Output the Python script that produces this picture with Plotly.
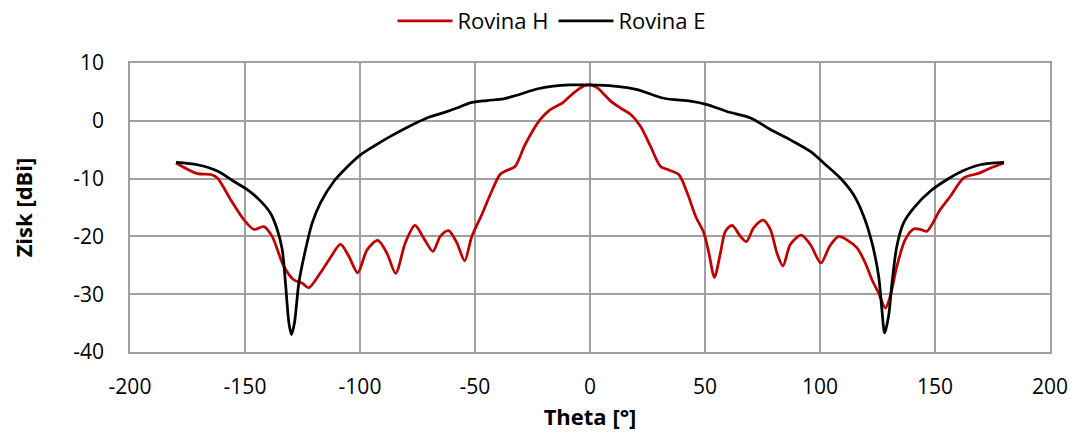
import plotly.graph_objects as go

theta_h = [-180, -170.7, -164.9, -162, -156.3, -150.5, -146.1, -141.8, -138.2, -133.1, -128.8, -125.1,
           -122.3, -117.2, -112.9, -108.5, -104.9, -101, -96.9, -92.3, -88.3, -84.5, -80.3, -76.1,
           -72.3, -68.3, -65.1, -61.5, -57.9, -54.5, -51.4, -47, -43.4, -39.1, -36.2, -32.6, -28.2,
           -21.7, -17.4, -11.6, -7.2, -2.2, 0,
           3.2, 9, 13.3, 17.7, 22, 26.3, 30.7, 34.3, 38.6, 42.3, 45.9, 49.5, 51.7, 54.1, 56.7, 58.9,
           61.8, 65.4, 68, 71.2, 75.3, 78.4, 81.3, 83.9, 87.1, 91.8, 95.8, 100.4, 104.2, 108.1,
           111.7, 116.1, 119.7, 122.6, 125.5, 128.4, 130.5, 133.4, 137, 140.7, 143.6, 146.5, 152.2,
           156.6, 162.4, 168.9, 174, 180]
gain_h = [-7.3, -9.15, -9.3, -9.9, -13.6, -17.1, -18.8, -18.3, -20, -25.2, -27.5, -28.1,
          -28.9, -26.3, -23.7, -21.4, -23.4, -26.3, -22.3, -20.7, -22.9, -26.4, -21.1, -18.1,
          -20.3, -22.6, -20, -19, -21.1, -24.2, -20, -16.2, -12.8, -9.3, -8.6, -7.9, -4.1,
          0.2, 1.9, 3.2, 4.8, 6.1, 6.2,
          5.7, 3.4, 2.2, 1.1, -1, -4.4, -7.9, -8.5, -9.3, -12.5, -16.5, -19.4, -22.9, -27.1, -22.9, -19.1,
          -18.1, -20, -20.9, -18.5, -17.2, -18.8, -22.9, -25.1, -21.4, -19.8, -21.4, -24.6, -21.7, -20,
          -20.6, -22, -24.6, -27.5, -29.8, -32.4, -30.4, -25.2, -20.6, -18.7, -18.8, -19.1, -15.4,
          -13.1, -9.9, -9.1, -8.2, -7.3]

theta_e = [-180, -170.7, -162, -154.8, -149, -143.2, -138.9, -136, -133.8, -132.4, -130.9, -129.8,
           -128.5, -126.6, -123.7, -120.8, -117.2, -111.4, -105.6, -99.8, -94, -86.8, -78.1, -70.9,
           -62.9, -57.9, -52.1, -44.8, -37.6, -30.4, -23.1, -15.9, -8.7, 0,
           10.4, 20.5, 32.1, 43.7, 50.9, 59.6, 69.8, 78.4, 87.1, 95.8, 101.6, 108.8, 114.6, 119,
           122.6, 125.5, 126.9, 128.1, 129.8, 131.3, 133.4, 136.3, 140.7, 147.9, 155.1, 162.4,
           169.6, 180]
gain_e = [-7.2, -7.6, -8.7, -10.5, -11.9, -13.9, -16, -18.8, -22.3, -28.1, -35, -37,
          -35, -28.1, -22.3, -17.7, -14.2, -10.5, -8, -5.9, -4.4, -2.7, -0.85, 0.5,
          1.5, 2.2, 3.1, 3.5, 3.8, 4.6, 5.5, 6, 6.2, 6.2,
          6, 5.4, 3.9, 3.4, 2.8, 1.6, 0.5, -1.5, -3.3, -5.3, -7.3, -9.9, -12.8, -16.5,
          -21.1, -26.9, -32.6, -36.7, -33.8, -28.1, -21.7, -17.7, -15.1, -12.2, -10.2, -8.6,
          -7.6, -7.2]

x_ticks = [-200, -150, -100, -50, 0, 50, 100, 150, 200]
y_ticks = [-40, -30, -20, -10, 0, 10]

FONT = "Open Sans, sans-serif"
GRID = "#A0A0A0"

fig = go.Figure()
fig.add_trace(go.Scatter(x=theta_h, y=gain_h, mode="lines", name="Rovina H",
                         line=dict(color="#C00000", width=2.75, shape="spline", smoothing=0.8)))
fig.add_trace(go.Scatter(x=theta_e, y=gain_e, mode="lines", name="Rovina E",
                         line=dict(color="#000000", width=2.75, shape="spline", smoothing=0.8)))

fig.update_layout(
    width=1076, height=441,
    margin=dict(l=130, r=26, t=63, b=89, autoexpand=False),
    paper_bgcolor="white", plot_bgcolor="white",
    font=dict(family=FONT, size=21, color="#000000"),
    showlegend=True,
    legend=dict(orientation="h", xref="container", yref="container",
                x=0.513, y=1.0, xanchor="center", yanchor="top",
                font=dict(family=FONT, size=22), itemwidth=55, tracegroupgap=0),
)
fig.update_xaxes(range=[-200, 200], tickvals=x_ticks, ticktext=[str(v) for v in x_ticks],
                 showgrid=True, gridcolor=GRID, gridwidth=1.5,
                 showline=True, linecolor=GRID, linewidth=1.5, mirror=True,
                 zeroline=False, ticks="", ticklen=0, ticklabelstandoff=15,
                 title=dict(text="<b>Theta [°]</b>", font=dict(family=FONT, size=22), standoff=11),
                 tickfont=dict(family=FONT, size=21))
fig.update_yaxes(range=[-40, 10], tickvals=y_ticks, ticktext=[str(v) for v in y_ticks],
                 showgrid=True, gridcolor=GRID, gridwidth=1.5,
                 showline=True, linecolor=GRID, linewidth=1.5, mirror=True,
                 zeroline=False, ticks="", ticklen=0, ticklabelstandoff=20,
                 title=dict(text="<b>Zisk [dBi]</b>", font=dict(family=FONT, size=22), standoff=35),
                 tickfont=dict(family=FONT, size=21))

fig.write_html("out.html", config={"displayModeBar": False},
               post_script="document.body.style.margin='0';")
